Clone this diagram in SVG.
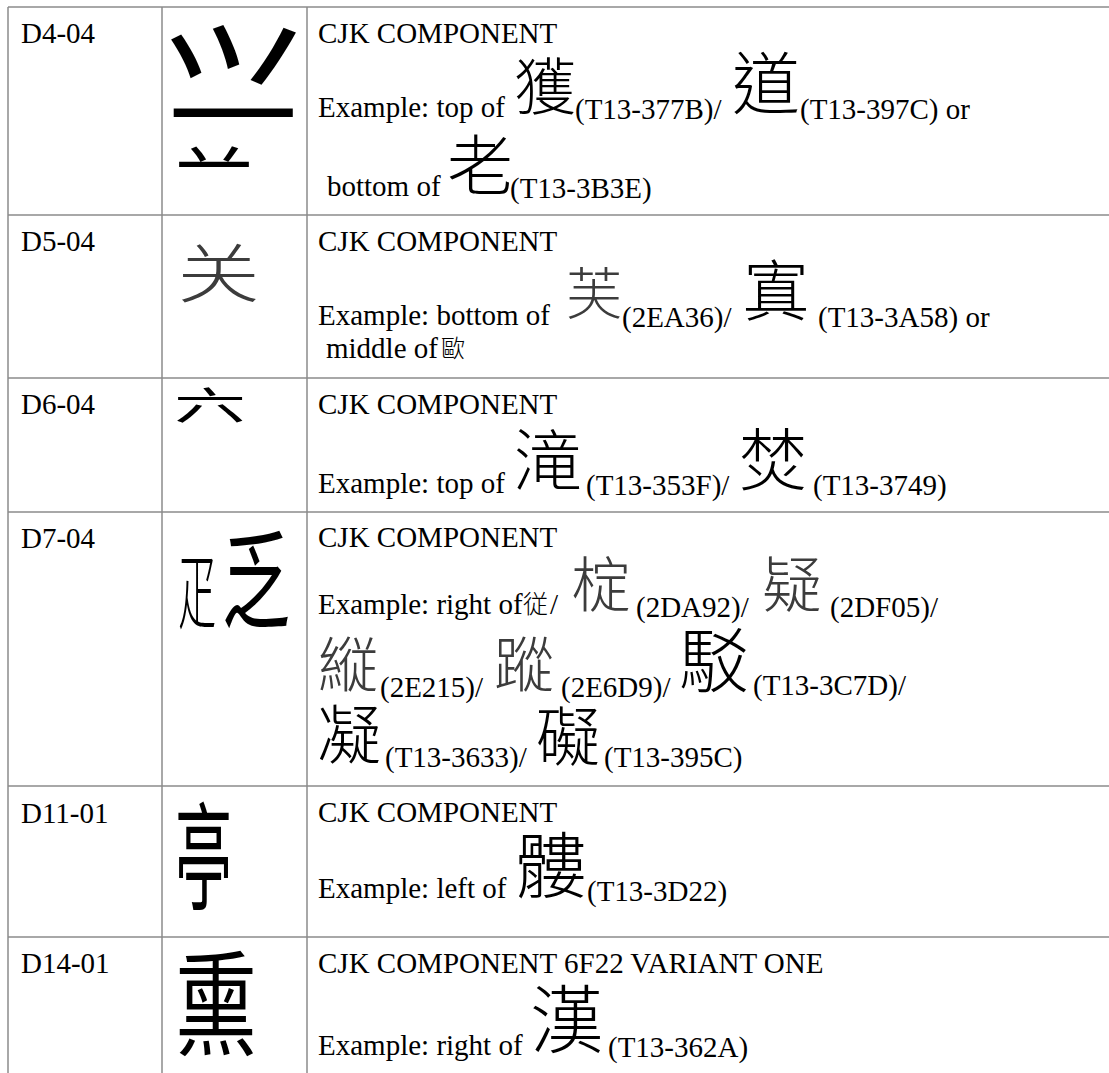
<svg xmlns="http://www.w3.org/2000/svg" width="1109" height="1073" viewBox="0 0 1109 1073">
<style>
.t{font-family:"Liberation Serif","Times New Roman",serif;font-size:29px;fill:#000}
.c{font-family:"Noto Sans CJK TC","Noto Sans CJK JP",sans-serif;font-weight:300;fill:#000}
.m{font-weight:400}
.g{fill:#3c3c3c}
.ln{stroke:#8c8c8c;stroke-width:1.5;fill:none}
</style>
<defs>
<clipPath id="clipSmall"><rect x="160" y="135" width="140" height="38"/></clipPath>
</defs>
<rect width="1109" height="1073" fill="#fff"/>
<g id="grid">
<path class="ln" d="M8,7H1109M8,215H1109M8,378H1109M8,512H1109M8,786H1109M8,937H1109M8,7V1073M162,7V1073M307,7V1073"/>
</g>
<g id="row-D4-04">
<text class="t" x="21" y="43">D4-04</text>
<text class="c m" transform="translate(160,156) scale(1.48,1.6)" font-size="100">⺍</text>
<text class="c m" transform="translate(168,154) scale(1,0.8)" font-size="130">一</text>
<g clip-path="url(#clipSmall)"><text class="c m" transform="translate(175,192) scale(0.78,0.78)" font-size="100">䒑</text></g>
<text class="t" x="318" y="43">CJK COMPONENT</text>
<text class="t" x="318" y="117">Example: top of</text>
<text class="c" x="514" y="110" font-size="62">獲</text>
<text class="t" x="575" y="119">(T13-377B)/</text>
<text class="c" x="732" y="109" font-size="68">道</text>
<text class="t" x="800" y="119">(T13-397C) or</text>
<text class="t" x="327" y="196">bottom of</text>
<text class="c" x="447" y="190" font-size="66">老</text>
<text class="t" x="510" y="198">(T13-3B3E)</text>
</g>
<g id="row-D5-04">
<text class="t" x="21" y="251">D5-04</text>
<text class="c g" transform="translate(177,297) scale(0.83,0.64)" font-size="100">关</text>
<text class="t" x="318" y="251">CJK COMPONENT</text>
<text class="t" x="318" y="325">Example: bottom of</text>
<text class="c g" x="566" y="314" font-size="56">芙</text>
<text class="t" x="622" y="327">(2EA36)/</text>
<text class="c" x="743" y="315" font-size="66">寘</text>
<text class="t" x="818" y="327">(T13-3A58) or</text>
<text class="t" x="326" y="358">middle of</text>
<text class="c" x="441" y="357" font-size="24">歐</text>
</g>
<g id="row-D6-04">
<text class="t" x="21" y="414">D6-04</text>
<text class="c m" transform="translate(174,419) scale(0.72,0.38)" font-size="100">六</text>
<text class="t" x="318" y="414">CJK COMPONENT</text>
<text class="t" x="318" y="493">Example: top of</text>
<text class="c" x="514" y="486" font-size="68">滝</text>
<text class="t" x="586" y="495">(T13-353F)/</text>
<text class="c" x="739" y="485" font-size="68">焚</text>
<text class="t" x="813" y="495">(T13-3749)</text>
</g>
<g id="row-D7-04">
<text class="t" x="21" y="548">D7-04</text>
<text class="c" transform="translate(178,623) scale(0.38,0.85)" font-size="100">疋</text>
<text class="c m" transform="translate(222,620) scale(0.68,1.08)" font-size="100">乏</text>
<text class="t" x="318" y="547">CJK COMPONENT</text>
<text class="t" x="318" y="614">Example: right of</text>
<text class="c" x="523" y="613" font-size="25">従</text>
<text class="t" x="550" y="614">/</text>
<text class="c g" x="571" y="607" font-size="60">椗</text>
<text class="t" x="636" y="617">(2DA92)/</text>
<text class="c g" x="762" y="607" font-size="60">疑</text>
<text class="t" x="830" y="617">(2DF05)/</text>
<text class="c g" x="318" y="687" font-size="60">縦</text>
<text class="t" x="380" y="697">(2E215)/</text>
<text class="c g" x="494" y="687" font-size="60">蹤</text>
<text class="t" x="561" y="697">(2E6D9)/</text>
<text class="c" x="679" y="687" font-size="70">駁</text>
<text class="t" x="753" y="695">(T13-3C7D)/</text>
<text class="c" x="317" y="758" font-size="64">凝</text>
<text class="t" x="385" y="767">(T13-3633)/</text>
<text class="c" x="536" y="760" font-size="64">礙</text>
<text class="t" x="604" y="767">(T13-395C)</text>
</g>
<g id="row-D11-01">
<text class="t" x="21" y="823">D11-01</text>
<text class="c m" transform="translate(175,901) scale(0.57,1.17)" font-size="100">亭</text>
<text class="t" x="318" y="822">CJK COMPONENT</text>
<text class="t" x="318" y="898">Example: left of</text>
<text class="c" x="515" y="892" font-size="72">髏</text>
<text class="t" x="587" y="901">(T13-3D22)</text>
</g>
<g id="row-D14-01">
<text class="t" x="21" y="973">D14-01</text>
<text class="c m" transform="translate(175,1046) scale(0.82,1.14)" font-size="100">熏</text>
<text class="t" x="318" y="973">CJK COMPONENT 6F22 VARIANT ONE</text>
<text class="t" x="318" y="1055">Example: right of</text>
<text class="c" x="530" y="1047" font-size="74">漢</text>
<text class="t" x="608" y="1057">(T13-362A)</text>
</g>
</svg>
